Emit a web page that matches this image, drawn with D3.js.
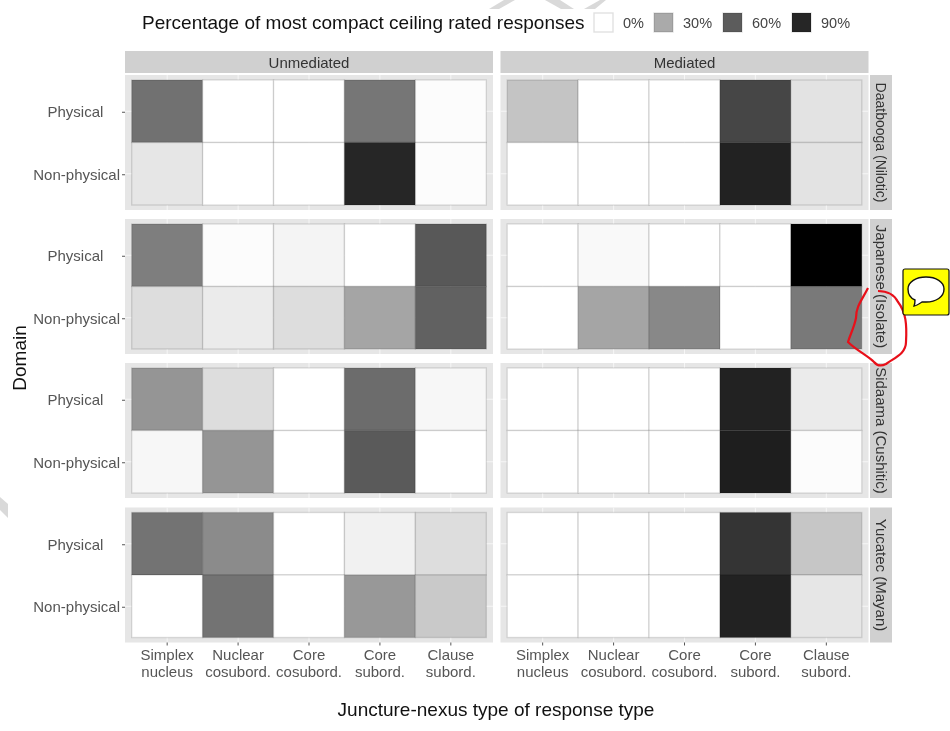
<!DOCTYPE html>
<html>
<head>
<meta charset="utf-8">
<script src="https://cdn.jsdelivr.net/npm/d3@7"></script>
<style>
html,body{margin:0;padding:0;background:#fff;}
svg{display:block;filter:blur(0.45px);}
text{font-family:"Liberation Sans",Arial,sans-serif;}
</style>
</head>
<body>
<svg id="chart" width="950" height="731"></svg>
<script>
const responseTypes = ["Simplex nucleus","Nuclear cosubord.","Core cosubord.","Core subord.","Clause subord."];
const domains = ["Physical","Non-physical"];
const mediations = ["Unmediated","Mediated"];
const languages = ["Daatbooga (Nilotic)","Japanese (Isolate)","Sidaama (Cushitic)","Yucatec (Mayan)"];
const legendValues = [0,30,60,90];

// percentages per row: language / mediation / domain
const daatboogaUnmediated = [[52,0,0,50,1],[9,0,0,90,1]];
const daatboogaMediated   = [[21,0,0,72,10],[0,0,0,91,10]];
const japaneseUnmediated  = [[47,1,4,0,62],[12,7,12,32,58]];
const japaneseMediated    = [[0,2,0,0,100],[0,32,43,0,49]];
const sidaamaUnmediated   = [[38,12,0,54,3],[3,38,0,61,0]];
const sidaamaMediated     = [[0,0,0,91,7],[0,0,0,92,1]];
const yucatecUnmediated   = [[51,42,0,5,12],[0,51,0,37,19]];
const yucatecMediated     = [[0,0,0,82,20],[0,0,0,91,9]];

const grid = [
  [daatboogaUnmediated, daatboogaMediated],
  [japaneseUnmediated, japaneseMediated],
  [sidaamaUnmediated, sidaamaMediated],
  [yucatecUnmediated, yucatecMediated]
];

const svg = d3.select("#chart");
const fill = d3.scaleLinear().domain([0,30,60,90,100]).range(["#ffffff","#aaaaaa","#5c5c5c","#262626","#000000"]);

const panelW = 368, panelH = 135, padX = 6.7, padY = 5;
const colX = [125, 500.5];
const rowY = [75, 219, 363, 507.5];

// watermark fragments cut by the page edge
const watermark = svg.append("g").attr("fill","#d9d9d9");
["M489 9L504 0L515 0L499 9Z","M545 0L560 0L574 9L561 9Z","M584 9L600 0L606 0L595 9Z","M0 497L8 504L8 518L0 510Z"]
  .forEach(p=>watermark.append("path").attr("d",p));

// column strips
mediations.forEach((m,c)=>{
  svg.append("rect").attr("x",colX[c]).attr("y",51).attr("width",panelW).attr("height",22).attr("fill","#d0d0d0");
  svg.append("text").attr("x",colX[c]+panelW/2).attr("y",68).attr("text-anchor","middle")
    .attr("font-size",15).attr("fill","#333").text(m);
});

grid.forEach((row,r)=>{
  // row strip
  const sx = 870, sw = 22;
  svg.append("rect").attr("x",sx).attr("y",rowY[r]).attr("width",sw).attr("height",panelH).attr("fill","#d0d0d0");
  svg.append("text").attr("transform",`translate(${sx+6},${rowY[r]+panelH/2}) rotate(90)`)
    .attr("text-anchor","middle").attr("font-size",r===0?14:15).attr("fill","#333").text(languages[r]);

  row.forEach((values,c)=>{
    const x0 = colX[c], y0 = rowY[r];
    const x = d3.scaleBand().domain(responseTypes).range([x0+padX,x0+panelW-padX]);
    const y = d3.scaleBand().domain(domains).range([y0+padY,y0+panelH-padY]);
    const g = svg.append("g");
    g.append("rect").attr("x",x0).attr("y",y0).attr("width",panelW).attr("height",panelH).attr("fill","#e6e6e6");
    // grid
    g.selectAll("line.v").data(responseTypes).join("line").attr("class","v")
      .attr("x1",d=>x(d)+x.bandwidth()/2).attr("x2",d=>x(d)+x.bandwidth()/2)
      .attr("y1",y0).attr("y2",y0+panelH).attr("stroke","#f6f6f6").attr("stroke-width",1);
    g.selectAll("line.h").data(domains).join("line").attr("class","h")
      .attr("y1",d=>y(d)+y.bandwidth()/2).attr("y2",d=>y(d)+y.bandwidth()/2)
      .attr("x1",x0).attr("x2",x0+panelW).attr("stroke","#f6f6f6").attr("stroke-width",1);
    // tiles
    const cells = values.flatMap((vals,i)=>vals.map((v,j)=>({d:domains[i],t:responseTypes[j],v})));
    g.selectAll("rect.tile").data(cells).join("rect").attr("class","tile")
      .attr("x",d=>x(d.t)).attr("y",d=>y(d.d))
      .attr("width",x.bandwidth()).attr("height",y.bandwidth())
      .attr("fill",d=>fill(d.v)).attr("stroke","#000").attr("stroke-opacity",0.12).attr("stroke-width",1.4);

    // y axis
    if(c===0){
      const ay = svg.append("g").attr("transform",`translate(${x0},1)`)
        .call(d3.axisLeft(y).tickSize(3).tickPadding(2).tickFormat(d=>d==="Physical"?"Physical\u00a0\u00a0\u00a0\u00a0":d));
      ay.select(".domain").remove();
      ay.selectAll("line").attr("stroke","#555");
      ay.selectAll("text").attr("font-size",15).attr("font-family","Liberation Sans").attr("fill","#555");
    }
    // x axis
    if(r===grid.length-1){
      const ax = svg.append("g").attr("transform",`translate(0,${y0+panelH})`)
        .call(d3.axisBottom(x).tickSize(3).tickPadding(2));
      ax.select(".domain").remove();
      ax.selectAll("line").attr("stroke","#555");
      ax.selectAll("text").each(function(d){
        const parts = d.split(" ");
        const t = d3.select(this).text(null).attr("font-size",15).attr("font-family","Liberation Sans").attr("fill","#555");
        parts.forEach((p,i)=>t.append("tspan").attr("x",0).attr("y",i===0?7:24).attr("dy","0.71em").text(p));
      });
    }
  });
});

// axis titles
svg.append("text").attr("x",496).attr("y",716).attr("text-anchor","middle").attr("font-size",19).attr("fill","#111")
  .text("Juncture-nexus type of response type");
svg.append("text").attr("transform","translate(26,358) rotate(-90)").attr("text-anchor","middle").attr("font-size",19).attr("fill","#111")
  .text("Domain");

// legend
svg.append("text").attr("x",142).attr("y",29).attr("font-size",19).attr("fill","#111")
  .text("Percentage of most compact ceiling rated responses");
const legendX = d3.scaleOrdinal().domain(legendValues).range([594,654,723,792]);
const lg = svg.selectAll("g.lg").data(legendValues).join("g").attr("class","lg")
  .attr("transform",d=>`translate(${legendX(d)},13)`);
lg.append("rect").attr("width",19).attr("height",19).attr("fill",d=>fill(d)).attr("stroke","#000").attr("stroke-opacity",0.12).attr("stroke-width",1.4);
lg.append("text").attr("x",29).attr("y",15).attr("font-size",14.5).attr("fill","#444").text(d=>d+"%");

// hand-drawn annotation and comment icon
svg.append("path").attr("d","M868 288 C862 300 856 306 856 318 C854 328 850 335 848 342 C856 350 868 356 874 362 C878 367 882 366 886 364 C894 358 906 354 906 342 C907 325 906 312 898 302 C894 294 888 291 878 291")
  .attr("fill","none").attr("stroke","#e8101a").attr("stroke-width",2.2);
const note = svg.append("g").attr("transform","translate(903,269)");
note.append("rect").attr("width",46).attr("height",46).attr("rx",2).attr("fill","#ffff00").attr("stroke","#111").attr("stroke-width",1.2);
note.append("path").attr("d","M23 8 C33 8 41 13 41 20 C41 28 33 33 23 33 L19 33 C16 35 13 37 11 37 C12 35 12 33 12 31 C7 29 5 25 5 20 C5 13 13 8 23 8 Z")
  .attr("fill","#fff").attr("stroke","#111").attr("stroke-width",1.4);
</script>
</body>
</html>
